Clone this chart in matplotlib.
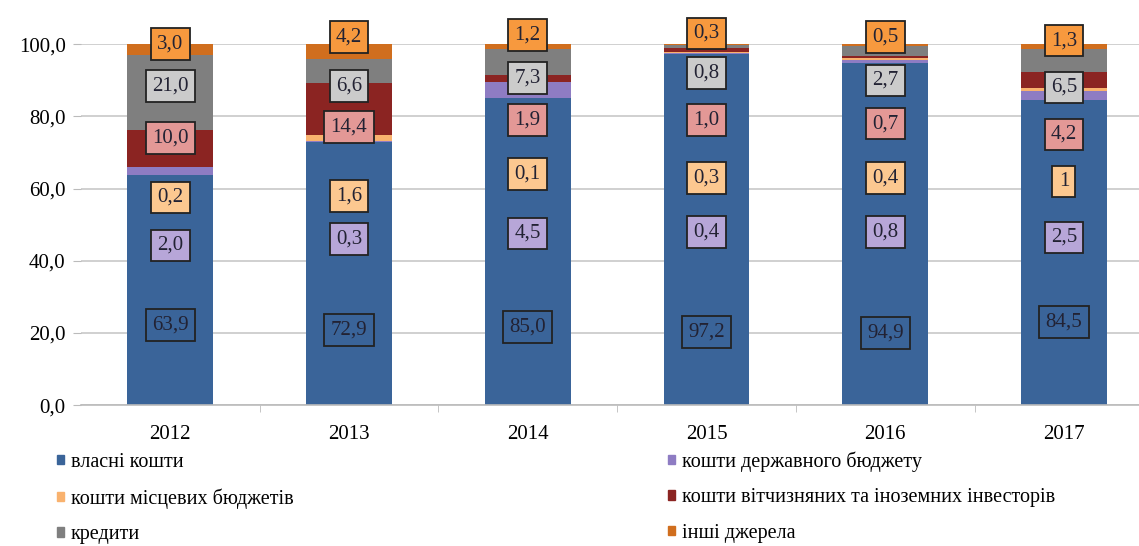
import numpy as np
import matplotlib.pyplot as plt
from matplotlib.patches import Patch

plt.rcParams['font.family'] = ['Liberation Serif', 'DejaVu Serif']

# data
years = ['2012', '2013', '2014', '2015', '2016', '2017']
series = ['власні кошти', 'кошти державного бюджету', 'кошти місцевих бюджетів',
          'кошти вітчизняних та іноземних інвесторів', 'кредити', 'інші джерела']
own = [63.9, 72.9, 85.0, 97.2, 94.9, 84.5]
state = [2.0, 0.3, 4.5, 0.4, 0.8, 2.5]
local = [0.2, 1.6, 0.1, 0.3, 0.4, 1.0]
investors = [10.0, 14.4, 1.9, 1.0, 0.7, 4.2]
credits = [21.0, 6.6, 7.3, 0.8, 2.7, 6.5]
other = [3.0, 4.2, 1.2, 0.3, 0.5, 1.3]
label_text = [
    ['63,9', '72,9', '85,0', '97,2', '94,9', '84,5'],
    ['2,0', '0,3', '4,5', '0,4', '0,8', '2,5'],
    ['0,2', '1,6', '0,1', '0,3', '0,4', '1'],
    ['10,0', '14,4', '1,9', '1,0', '0,7', '4,2'],
    ['21,0', '6,6', '7,3', '0,8', '2,7', '6,5'],
    ['3,0', '4,2', '1,2', '0,3', '0,5', '1,3'],
]

# label box positions (layout only)
label_y = [
    [22.2, 20.8, 21.6, 20.2, 20.0, 23.0],
    [44.3, 46.0, 47.6, 48.0, 48.0, 46.5],
    [57.6, 58.0, 64.0, 63.0, 63.0, 62.0],
    [74.0, 77.0, 79.0, 79.0, 78.0, 75.0],
    [88.4, 88.4, 90.6, 92.0, 90.0, 88.0],
    [100.0, 102.0, 102.5, 103.0, 102.0, 101.0],
]

colors = ['#3a6499', '#8e7cc3', '#f9b26e', '#8b2422', '#7f7f7f', '#d06e1e']
box_colors = ['#3a6499', '#b7a6d8', '#fcc890', '#e39896', '#cbcbcb', '#f7993e']

values = [own, state, local, investors, credits, other]

fig = plt.figure(figsize=(11.39, 5.46), dpi=100)
ax = fig.add_axes([0.071, 0.258, 0.929, 0.661])

x = np.arange(len(years))
bottom = np.zeros(len(years))
for vals, c, name in zip(values, colors, series):
    ax.bar(x, vals, 0.48, bottom=bottom, color=c, label=name, zorder=2)
    bottom += np.array(vals)

for i in range(len(values)):
    for j in range(len(years)):
        ax.text(x[j], label_y[i][j], label_text[i][j], ha='center', va='center',
                fontsize=15, color='#222233', zorder=5, clip_on=False,
                bbox=dict(boxstyle='square,pad=0.3', fc=box_colors[i],
                          ec='#222222', lw=1.3))

ax.set_xlim(-0.5, 5.42)
ax.set_ylim(0, 100)
ax.set_yticks(np.arange(0, 101, 20))
ax.set_yticklabels([('%.1f' % v).replace('.', ',') for v in np.arange(0, 101, 20)])
ax.set_xticks(x)
ax.set_xticklabels(years)
ax.set_xticks(x[:-1] + 0.5, minor=True)
ax.tick_params(axis='x', which='major', length=0, pad=14, labelsize=15)
ax.tick_params(axis='x', which='minor', length=5, color='#bbbbbb')
ax.tick_params(axis='y', length=6, color='#bbbbbb', labelsize=15, pad=5)
ax.grid(axis='y', color='#c8c8c8', lw=1.2, zorder=0)
for s in ['top', 'right', 'left']:
    ax.spines[s].set_visible(False)
ax.spines['bottom'].set_color('#bbbbbb')
ax.spines['bottom'].set_linewidth(1.2)

handles = [Patch(color=c) for c in colors]
order = [0, 2, 4, 1, 3, 5]
fig.legend([handles[k] for k in order], [series[k] for k in order],
           ncol=2, loc='upper left', bbox_to_anchor=(0.034, 0.207),
           frameon=False, fontsize=14.5, handlelength=0.35, handleheight=0.35,
           handletextpad=0.35, labelspacing=0.82, columnspacing=18.6)

plt.savefig('out.png', dpi=100)
